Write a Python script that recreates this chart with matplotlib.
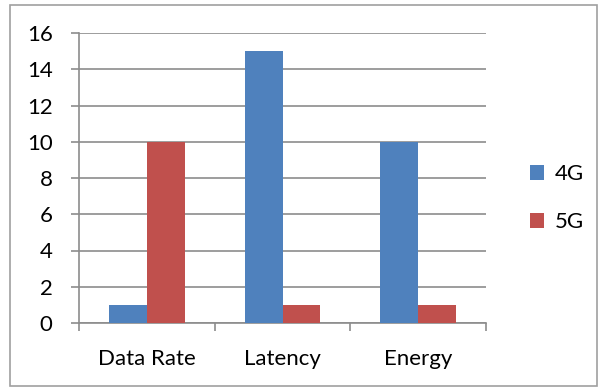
import numpy as np
import matplotlib.pyplot as plt
from matplotlib.patches import Rectangle

categories = ["Data Rate", "Latency", "Energy"]
series_names = ["4G", "5G"]
vals_4g = [1, 15, 10]
vals_5g = [10, 1, 1]
yticks = [0, 2, 4, 6, 8, 10, 12, 14, 16]

plt.rcParams['font.family'] = ['Lato', 'DejaVu Sans']
C4G, C5G, GRID = "#4F81BD", "#C0504D", "#8C8C8C"
FS = 16

fig = plt.figure(figsize=(6, 3.9), dpi=100)
fig.patches.append(Rectangle((10/600, 4/390), 587/600, 381/390, transform=fig.transFigure,
                             fill=False, ec="#A0A0A0", lw=1.2))
ax = fig.add_axes([79/600, 1 - 323/390, 407/600, 290/390])

x = np.arange(len(categories))
w = 0.28
ax.bar(x - w/2, vals_4g, w, color=C4G, label=series_names[0], zorder=3)
ax.bar(x + w/2, vals_5g, w, color=C5G, label=series_names[1], zorder=3)

ax.set_xlim(-0.5, len(categories) - 0.5)
ax.set_ylim(0, 16)
ax.set_yticks(yticks)
ax.yaxis.grid(True, color=GRID, lw=1.2, zorder=0)
ax.set_xticks(x)
ax.set_xticklabels(categories)
ax.set_xticks(np.arange(len(categories) + 1) - 0.5, minor=True)
ax.tick_params(axis="x", which="major", length=0, pad=19, labelsize=FS)
ax.tick_params(axis="x", which="minor", length=6, color=GRID, width=1.2)
ax.tick_params(axis="y", length=6, color=GRID, width=1.2, pad=13, labelsize=FS)
for s in ["top", "right"]:
    ax.spines[s].set_visible(False)
for s in ["left", "bottom"]:
    ax.spines[s].set_color(GRID)
    ax.spines[s].set_linewidth(1.2)

ax.legend(loc="center left", bbox_to_anchor=(1.058, 0.43), frameon=False, fontsize=FS,
          handlelength=0.63, handleheight=0.63, labelspacing=1.25, handletextpad=0.5)

fig.savefig("out.png", dpi=100)
